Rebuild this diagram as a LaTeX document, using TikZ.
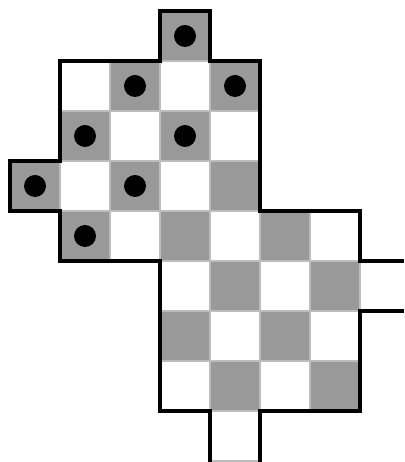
\documentclass[tikz,border=0pt]{standalone}
\definecolor{sqgrey}{HTML}{999999}
\definecolor{gridln}{HTML}{BDBDBD}
\tikzset{
  sqw/.style    ={fill=white, draw=gridln, line width=1.1pt},
  sqg/.style    ={fill=sqgrey, draw=gridln, line width=1.1pt},
  rim/.style    ={draw=black, line width=2.1pt, line join=miter},
  piece/.style  ={fill=black},
}
\begin{document}
\begin{tikzpicture}[x=1cm,y=1cm]
  \useasboundingbox (-0.2,-0.02) rectangle (7.88,9.22);

  % ---- squares: row/first col/last col (row 0 on top) ----
  \foreach \r/\a/\b in {0/3/3,1/1/4,2/1/4,3/0/4,4/1/6,5/3/6,6/3/6,7/3/6,8/4/4}{
    \foreach \c in {\a,...,\b}{
      \pgfmathtruncatemacro\s{\r+\c}
      \ifodd\s
        \path[sqg] (\c,8-\r) rectangle ++(1,1);
      \else
        \path[sqw] (\c,8-\r) rectangle ++(1,1);
      \fi
    }
  }

  % ---- pieces ----
  \foreach \r/\c in {0/3,1/2,1/4,2/1,2/3,3/0,3/2,4/1}
    \fill[piece] (\c+0.5,8.5-\r) circle (0.22);

  % ---- board edge, open at right and bottom ----
  \draw[rim] (7.88,4) -- (7,4) -- (7,5) -- (5,5) -- (5,8) -- (4,8) -- (4,9)
        -- (3,9) -- (3,8) -- (1,8) -- (1,6) -- (0,6) -- (0,5) -- (1,5)
        -- (1,4) -- (3,4) -- (3,1) -- (4,1) -- (4,-0.02);
  \draw[rim] (7.88,3) -- (7,3) -- (7,1) -- (5,1) -- (5,-0.02);

\end{tikzpicture}
\end{document}
